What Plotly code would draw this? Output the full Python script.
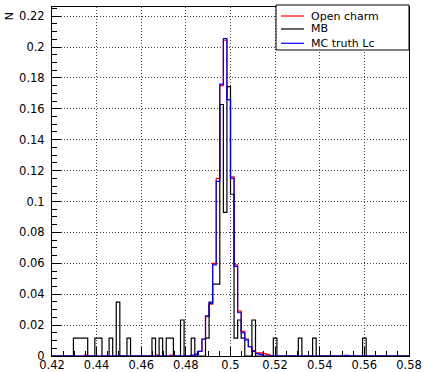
import numpy as np
import plotly.graph_objects as go

# Histogram definition (100 bins between 0.42 and 0.58)
x_min, x_max, n_bins = 0.42, 0.58, 100

# MB (black): bin centres and normalised contents
mb_x = [0.4304, 0.4320, 0.4336, 0.4352, 0.4400, 0.4416, 0.4464, 0.4496, 0.4544,
        0.4656, 0.4688, 0.4720, 0.4736, 0.4784, 0.4832, 0.4896, 0.4912, 0.4928,
        0.4944, 0.4960, 0.4976, 0.4992, 0.5008, 0.5024, 0.5040, 0.5056, 0.5104,
        0.5200, 0.5312, 0.5376, 0.5600]
mb_y = [0.0116, 0.0116, 0.0116, 0.0116, 0.0116, 0.0116, 0.0116, 0.0349, 0.0116,
        0.0116, 0.0116, 0.0116, 0.0116, 0.0233, 0.0116, 0.0116, 0.0349, 0.0465,
        0.0465, 0.1628, 0.0930, 0.1744, 0.1047, 0.0116, 0.0233, 0.0116, 0.0233,
        0.0116, 0.0116, 0.0116, 0.0116]

# MC truth Lc (blue)
lc_x = [0.4832, 0.4848, 0.4864, 0.4880, 0.4896, 0.4912, 0.4928, 0.4944, 0.4960,
        0.4976, 0.4992, 0.5008, 0.5024, 0.5040, 0.5056, 0.5072, 0.5088, 0.5104,
        0.5120, 0.5136, 0.5520]
lc_y = [0.0005, 0.0010, 0.0030, 0.0110, 0.0260, 0.0340, 0.0590, 0.1130, 0.1760,
        0.2055, 0.1660, 0.1150, 0.0580, 0.0280, 0.0150, 0.0105, 0.0060, 0.0030,
        0.0015, 0.0010, 0.0005]

# Open charm (red)
oc_x = [0.4352, 0.4672, 0.4736, 0.4832, 0.4848, 0.4864, 0.4880, 0.4896, 0.4912,
        0.4928, 0.4944, 0.4960, 0.4976, 0.4992, 0.5008, 0.5024, 0.5040, 0.5056,
        0.5072, 0.5088, 0.5104, 0.5120, 0.5136, 0.5152, 0.5168]
oc_y = [0.0006, 0.0006, 0.0006, 0.0006, 0.0012, 0.0030, 0.0110, 0.0255, 0.0335,
        0.0600, 0.1150, 0.1750, 0.2045, 0.1660, 0.1160, 0.0590, 0.0290, 0.0160,
        0.0110, 0.0060, 0.0035, 0.0020, 0.0020, 0.0015, 0.0010]

series_names = ["Open charm", "MB", "MC truth Lc"]
series_colors = ["#ff0000", "#000000", "#0000ff"]

edges = np.linspace(x_min, x_max, n_bins + 1)


def fill(xs, ys):
    h, _ = np.histogram(xs, bins=edges, weights=ys)
    return np.append(h, h[-1])


data = [(oc_x, oc_y), (mb_x, mb_y), (lc_x, lc_y)]

fig = go.Figure()
for name, (xs, ys), col in zip(series_names, data, series_colors):
    fig.add_trace(go.Scatter(
        x=edges, y=fill(xs, ys), name=name, mode="lines",
        line=dict(color=col, width=1.2, shape="hv"), showlegend=False,
    ))

axis_common = dict(
    showline=True, linecolor="black", linewidth=1, mirror=True,
    ticks="inside", ticklen=9, tickcolor="black", tickwidth=1,
    showgrid=True, gridcolor="#444444", gridwidth=1, griddash="1px,2px",
    zeroline=False, automargin=False,
)

fig.update_xaxes(range=[x_min, x_max], tick0=0.42, dtick=0.02,
                 minor=dict(dtick=0.005, ticks="inside", ticklen=5,
                            tickcolor="black", showgrid=False),
                 tickfont=dict(family="DejaVu Sans", size=11.5, color="black"),
                 ticklabelstandoff=-2, **axis_common)
fig.update_yaxes(range=[0, 0.2259], tick0=0, dtick=0.02,
                 minor=dict(dtick=0.005, ticks="inside", ticklen=5,
                            tickcolor="black", showgrid=False),
                 tickfont=dict(family="DejaVu Sans", size=11.5, color="black"),
                 ticklabelstandoff=4, **axis_common)

fig.add_annotation(text="N", xref="paper", yref="paper", x=-0.118, y=0.99,
                   textangle=-90, showarrow=False, xanchor="center", yanchor="top",
                   font=dict(family="DejaVu Sans", size=11, color="black"))

# Legend box (ROOT TLegend style), in paper coordinates
box_x0, box_x1, box_y0, box_y1 = 0.6275, 1.0, 0.8768, 1.0057
fig.add_shape(type="rect", xref="paper", yref="paper",
              x0=box_x0, x1=box_x1, y0=box_y0, y1=box_y1,
              line=dict(color="black", width=1), fillcolor="white", layer="above")
row_y = [0.9742, 0.9370, 0.8960]
for name, col, yy in zip(series_names, series_colors, row_y):
    fig.add_shape(type="line", xref="paper", yref="paper",
                  x0=0.6415, x1=0.7059, y0=yy, y1=yy,
                  line=dict(color=col, width=1.2), layer="above")
    fig.add_annotation(text=name, xref="paper", yref="paper", x=0.7199, y=yy,
                       xanchor="left", yanchor="middle", showarrow=False,
                       font=dict(family="DejaVu Sans", size=11, color="black"))

fig.update_layout(
    width=425, height=372,
    margin=dict(l=52, r=16, t=7, b=16),
    paper_bgcolor="white", plot_bgcolor="white",
    showlegend=False,
)

fig.write_html("out.html")
